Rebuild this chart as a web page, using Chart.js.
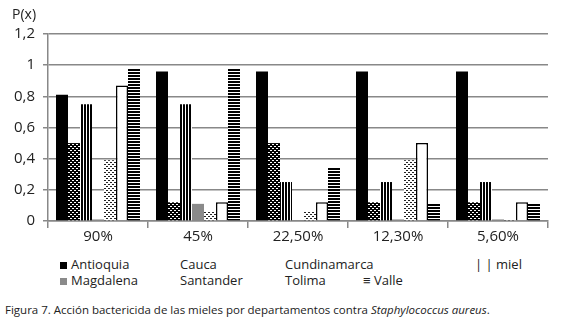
<!DOCTYPE html>
<html>
<head>
<meta charset="utf-8">
<script src="https://cdn.jsdelivr.net/npm/chart.js@4/dist/chart.umd.min.js"></script>
<style>
  body { margin: 0; background: #fff; font-family: "Open Sans", sans-serif; color: #222; }
  #wrap { position: relative; width: 569px; height: 334px; overflow: hidden; }
  canvas { position: absolute; left: 0; top: 0; }
  .t { position: absolute; font-size: 13px; line-height: 1; white-space: nowrap; }
  .sq { display: inline-block; width: 7px; height: 7px; margin-right: 4px; }
</style>
</head>
<body>
<div id="wrap">
  <canvas id="c" width="569" height="245"></canvas>
  <div class="t" style="left:12px;top:7px;font-size:14px">P(x)</div>
  <div id="legend"></div>
  <div class="t" style="left:5px;top:304px;font-size:11.5px">Figura 7. Acción bactericida de las mieles por departamentos contra <i>Staphylococcus aureus</i>.</div>
</div>
<script>
const categories = ['90%', '45%', '22,50%', '12,30%', '5,60%']
const seriesNames = ['Antioquia', 'Cauca', 'Cundinamarca', 'Magdalena', 'Santander', 'Tolima', 'Valle']
const antioquia = [0.81, 0.96, 0.96, 0.96, 0.96]
const cauca = [0.5, 0.12, 0.5, 0.12, 0.12]
const cundinamarca = [0.75, 0.75, 0.25, 0.25, 0.25]
const magdalena = [0.01, 0.11, 0.005, 0.01, 0.01]
const santander = [0.39, 0.06, 0.06, 0.39, 0.01]
const tolima = [0.87, 0.12, 0.12, 0.5, 0.12]
const valle = [0.98, 0.98, 0.34, 0.11, 0.11]
const yTicks = ['0', '0,2', '0,4', '0,6', '0,8', '1', '1,2']

const ctx = document.getElementById('c').getContext('2d')

// small repeating fills like the printed hatchings
function pattern(w, h, draw) {
  const c = document.createElement('canvas')
  c.width = w
  c.height = h
  const g = c.getContext('2d')
  draw(g)
  return ctx.createPattern(c, 'repeat')
}

const checker = pattern(4, 4, g => {
  g.fillStyle = '#000'; g.fillRect(0, 0, 4, 4)
  g.fillStyle = '#fff'; g.fillRect(0, 0, 2, 1); g.fillRect(2, 2, 2, 1)
})
const dots = pattern(4, 4, g => {
  g.fillStyle = '#fff'; g.fillRect(0, 0, 4, 4)
  g.fillStyle = '#222'; g.fillRect(0, 0, 2, 1); g.fillRect(2, 2, 2, 1)
})
const vstripes = pattern(3, 3, g => {
  g.fillStyle = '#fff'; g.fillRect(0, 0, 3, 3)
  g.fillStyle = '#000'; g.fillRect(0, 0, 2, 3)
})
const hstripes = pattern(3, 3, g => {
  g.fillStyle = '#fff'; g.fillRect(0, 0, 3, 3)
  g.fillStyle = '#000'; g.fillRect(0, 0, 3, 2)
})

const values = [antioquia, cauca, cundinamarca, magdalena, santander, tolima, valle]
const fills = ['#000', checker, vstripes, '#8a8a8a', dots, '#fff', hstripes]

const chart = new Chart(ctx, {
  type: 'bar',
  data: {
    labels: categories,
    datasets: seriesNames.map((name, i) => ({
      label: name,
      data: values[i],
      backgroundColor: fills[i],
      borderColor: '#000',
      borderWidth: name === 'Tolima' ? 1.5 : 0,
      borderSkipped: 'bottom',
      categoryPercentage: 0.84,
      barPercentage: 1
    }))
  },
  options: {
    responsive: false,
    animation: false,
    layout: { padding: { top: 34, right: 21, left: 0, bottom: 0 } },
    plugins: { legend: { display: false }, tooltip: { enabled: false } },
    scales: {
      x: {
        grid: { offset: true, drawOnChartArea: false, color: '#888', lineWidth: 1.5, tickLength: 7 },
        border: { color: '#888', width: 1.5 },
        ticks: { color: '#222', font: { family: 'Open Sans', size: 15 }, padding: 0 },
        afterFit: s => { s.height = 24 }
      },
      y: {
        min: 0,
        max: 1.2,
        ticks: {
          stepSize: 0.2,
          color: '#222',
          font: { family: 'Open Sans', size: 15 },
          padding: 8,
          callback: (v, i) => yTicks[i]
        },
        grid: { color: '#888', lineWidth: 1.5, tickLength: 5 },
        border: { color: '#888', width: 1.5 },
        afterFit: s => { s.width = 48 }
      }
    }
  }
})

// legend laid out as in the printed figure
const legendSpots = [
  { x: 60, row: 0, mark: '#000' },
  { x: 180, row: 0 },
  { x: 285, row: 0 },
  { x: 60, row: 1, mark: '#8a8a8a' },
  { x: 180, row: 1 },
  { x: 285, row: 1 },
  { x: 363, row: 1, prefix: '≡ ' }
]
const legend = document.getElementById('legend')
seriesNames.forEach((name, i) => {
  const s = legendSpots[i]
  const el = document.createElement('div')
  el.className = 't'
  el.style.left = s.x + 'px'
  el.style.top = (258 + s.row * 16) + 'px'
  if (s.mark) el.innerHTML = '<span class="sq" style="background:' + s.mark + '"></span>'
  el.appendChild(document.createTextNode((s.prefix || '') + name))
  legend.appendChild(el)
})
const miel = document.createElement('div')
miel.className = 't'
miel.style.left = '475px'
miel.style.top = '258px'
miel.textContent = '|   | miel'
legend.appendChild(miel)
</script>
</body>
</html>
